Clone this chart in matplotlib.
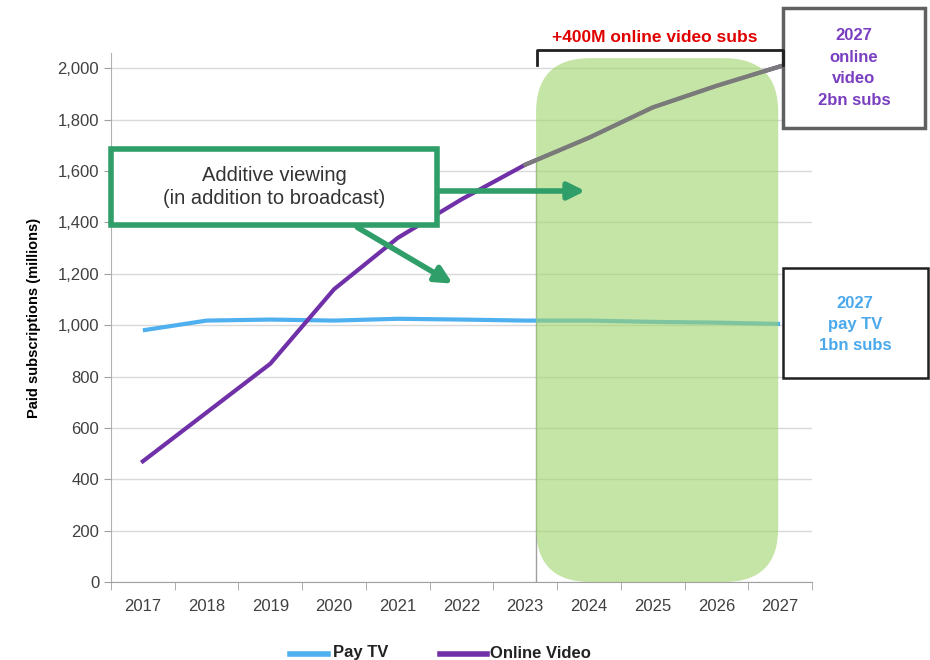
import matplotlib.pyplot as plt
from matplotlib.patches import FancyBboxPatch, Rectangle

years = ['2017', '2018', '2019', '2020', '2021', '2022', '2023', '2024', '2025', '2026', '2027']
pay_tv = [980, 1018, 1022, 1018, 1025, 1022, 1018, 1018, 1013, 1010, 1005]
online_video = [470, 660, 850, 1140, 1340, 1490, 1625, 1730, 1848, 1932, 2008]

W, H = 930, 660


def fx(px):
    return px / W


def fy(py):
    return 1 - py / H


plt.rcParams['font.family'] = ['Liberation Sans', 'DejaVu Sans']
fig = plt.figure(figsize=(9.3, 6.6), dpi=100)
ax = fig.add_axes([fx(111), fy(582), fx(812) - fx(111), (582 - 53) / H])

x = list(range(len(years)))
ax.plot(x, pay_tv, color='#4fb0f0', lw=3, solid_capstyle='butt', zorder=3)
ax.plot(x, online_video, color='#7030a8', lw=3, zorder=3)
# forecast part of online video drawn in grey, above the shading
ax.plot(x[6:], online_video[6:], color='#7a7a7a', lw=3, zorder=6)

ax.set_xlim(-0.5, 10.5)
ax.set_ylim(0, 2060)
ax.set_yticks(range(0, 2001, 200))
ax.set_yticklabels([f'{v:,}' for v in range(0, 2001, 200)], fontsize=12, color='#404040')
ax.set_xticks(x)
ax.set_xticklabels(years, fontsize=12, color='#404040')
ax.set_xticks([i - 0.5 for i in range(12)], minor=True)
ax.tick_params(axis='x', which='major', length=0, pad=12)
ax.tick_params(axis='x', which='minor', length=6, color='#a0a0a0')
ax.tick_params(axis='y', length=5, color='#a0a0a0')
ax.grid(axis='y', color='#d9d9d9', lw=1)
ax.set_axisbelow(True)
for s in ['top', 'right']:
    ax.spines[s].set_visible(False)
ax.spines['left'].set_color('#b0b0b0')
ax.spines['bottom'].set_color('#a0a0a0')
ax.set_ylabel('Paid subscriptions (millions)', fontsize=10.5, fontweight='bold', labelpad=12)

# vertical marker + shaded forecast region
ax.plot([6.17, 6.17], [0, 1640], color='#a0a0a0', lw=1, zorder=2)
aspect = (2060 / 529) / (11 / 701)
green = FancyBboxPatch((6.17, 0), 3.8, 2040,
                       boxstyle='round,pad=0,rounding_size=0.85',
                       mutation_aspect=aspect, facecolor='#9ed469', edgecolor='none',
                       alpha=0.6, zorder=5, clip_on=False)
ax.add_patch(green)

# bracket and red label
fig.add_artist(plt.Line2D([fx(537), fx(537), fx(783), fx(783)],
                          [fy(65), fy(50), fy(50), fy(65)], color='#202020', lw=2))
fig.text(fx(655), fy(38), '+400M online video subs', color='#e00000', fontsize=12.5,
         fontweight='bold', ha='center', va='center')

# right boxes
fig.add_artist(Rectangle((fx(783), fy(128)), fx(925) - fx(783), fy(8) - fy(128),
                         facecolor='white', edgecolor='#606060', lw=2.5))
fig.text(fx(854), fy(68), '2027\nonline\nvideo\n2bn subs', color='#7a3fc0', fontsize=12,
         fontweight='bold', ha='center', va='center', linespacing=1.55)
fig.add_artist(Rectangle((fx(783), fy(378)), fx(928) - fx(783), fy(268) - fy(378),
                         facecolor='white', edgecolor='#202020', lw=1.8))
fig.text(fx(855), fy(324), '2027\npay TV\n1bn subs', color='#4aa8ec', fontsize=12,
         fontweight='bold', ha='center', va='center', linespacing=1.5)

# additive viewing box and arrows
fig.add_artist(Rectangle((fx(111), fy(225)), fx(437) - fx(111), fy(149) - fy(225),
                         facecolor='white', edgecolor='#2f9e68', lw=4, zorder=6))
fig.text(fx(274), fy(187), 'Additive viewing\n(in addition to broadcast)', color='#333333',
         fontsize=14.5, ha='center', va='center', zorder=7, linespacing=1.3)
arrow_kw = dict(arrowstyle='-|>,head_length=1.0,head_width=0.5', color='#2f9e68', lw=4)
fig.add_artist(plt.Annotation('', xy=(fx(588), fy(191)), xytext=(fx(437), fy(191)),
                              xycoords='figure fraction', arrowprops=arrow_kw))
fig.add_artist(plt.Annotation('', xy=(fx(455), fy(285)), xytext=(fx(355), fy(226)),
                              xycoords='figure fraction', arrowprops=arrow_kw))

# legend
fig.add_artist(plt.Line2D([fx(290), fx(328)], [fy(654), fy(654)], color='#4fb0f0', lw=4))
fig.text(fx(333), fy(653), 'Pay TV', fontsize=12, fontweight='bold', va='center', color='#222222')
fig.add_artist(plt.Line2D([fx(440), fx(487)], [fy(654), fy(654)], color='#7030a8', lw=4))
fig.text(fx(490), fy(653), 'Online Video', fontsize=12, fontweight='bold', va='center', color='#222222')

fig.savefig('out.png', dpi=100)
